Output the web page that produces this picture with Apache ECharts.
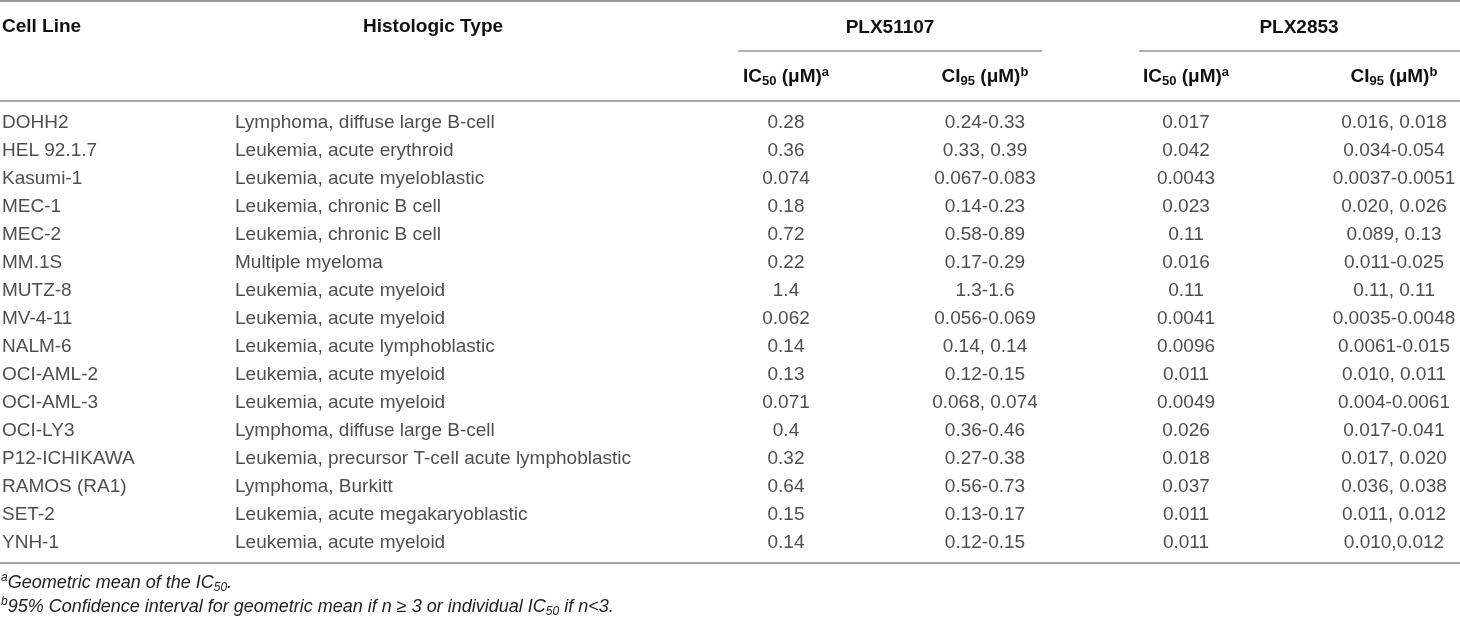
<!DOCTYPE html>
<html>
<head>
<meta charset="utf-8">
<script src="https://cdn.jsdelivr.net/npm/echarts@6/dist/echarts.min.js"></script>
<style>
  html, body { margin: 0; padding: 0; background: #fff; }
  #main { width: 1460px; height: 619px; }
</style>
</head>
<body>
<div id="main"></div>
<script>
// table data
var cellLines = ['DOHH2', 'HEL 92.1.7', 'Kasumi-1', 'MEC-1', 'MEC-2', 'MM.1S', 'MUTZ-8', 'MV-4-11',
  'NALM-6', 'OCI-AML-2', 'OCI-AML-3', 'OCI-LY3', 'P12-ICHIKAWA', 'RAMOS (RA1)', 'SET-2', 'YNH-1'];
var histologicTypes = ['Lymphoma, diffuse large B-cell', 'Leukemia, acute erythroid', 'Leukemia, acute myeloblastic',
  'Leukemia, chronic B cell', 'Leukemia, chronic B cell', 'Multiple myeloma', 'Leukemia, acute myeloid',
  'Leukemia, acute myeloid', 'Leukemia, acute lymphoblastic', 'Leukemia, acute myeloid', 'Leukemia, acute myeloid',
  'Lymphoma, diffuse large B-cell', 'Leukemia, precursor T-cell acute lymphoblastic', 'Lymphoma, Burkitt',
  'Leukemia, acute megakaryoblastic', 'Leukemia, acute myeloid'];
var plx51107IC50 = ['0.28', '0.36', '0.074', '0.18', '0.72', '0.22', '1.4', '0.062', '0.14', '0.13', '0.071',
  '0.4', '0.32', '0.64', '0.15', '0.14'];
var plx51107CI95 = ['0.24-0.33', '0.33, 0.39', '0.067-0.083', '0.14-0.23', '0.58-0.89', '0.17-0.29', '1.3-1.6',
  '0.056-0.069', '0.14, 0.14', '0.12-0.15', '0.068, 0.074', '0.36-0.46', '0.27-0.38', '0.56-0.73', '0.13-0.17',
  '0.12-0.15'];
var plx2853IC50 = ['0.017', '0.042', '0.0043', '0.023', '0.11', '0.016', '0.11', '0.0041', '0.0096', '0.011',
  '0.0049', '0.026', '0.018', '0.037', '0.011', '0.011'];
var plx2853CI95 = ['0.016, 0.018', '0.034-0.054', '0.0037-0.0051', '0.020, 0.026', '0.089, 0.13', '0.011-0.025',
  '0.11, 0.11', '0.0035-0.0048', '0.0061-0.015', '0.010, 0.011', '0.004-0.0061', '0.017-0.041', '0.017, 0.020',
  '0.036, 0.038', '0.011, 0.012', '0.010,0.012'];
var drugs = ['PLX51107', 'PLX2853'];
var footnotes = ['{sup|a}Geometric mean of the IC{sub|50}.',
  '{sup|b}95% Confidence interval for geometric mean if n \u2265 3 or individual IC{sub|50} if n<3.'];

// layout (pixels)
var FONT = 'Liberation Sans';
var colX = { cell: 2, histo: 235, ic1: 786, ci1: 985, ic2: 1186, ci2: 1394 };

var myChart = echarts.init(document.getElementById('main'));

function column(texts, x, align) {
  return {
    type: 'scatter',
    symbolSize: 1,
    silent: true,
    itemStyle: { color: 'transparent' },
    data: texts.map(function (t, i) { return [x, i]; }),
    label: {
      show: true,
      position: 'inside',
      align: align,
      verticalAlign: 'middle',
      fontFamily: FONT,
      fontSize: 19,
      color: '#222',
      formatter: function (p) { return texts[p.dataIndex]; }
    }
  };
}

function headText(text, x, y, align) {
  return {
    type: 'text', silent: true,
    style: {
      text: text, x: x, y: y,
      align: align, textAlign: align, verticalAlign: 'middle', textVerticalAlign: 'middle',
      fontFamily: FONT, fontSize: 19, fontWeight: 'bold', fill: '#111', lineHeight: 22,
      rich: {
        sub: { fontFamily: FONT, fontSize: 13, fontWeight: 'bold', fill: '#111', lineHeight: 13, verticalAlign: 'bottom' },
        sup: { fontFamily: FONT, fontSize: 13, fontWeight: 'bold', fill: '#111', lineHeight: 13, verticalAlign: 'top' }
      }
    }
  };
}

function noteText(text, y) {
  return {
    type: 'text', silent: true,
    style: {
      text: text, x: 1, y: y,
      align: 'left', textAlign: 'left', verticalAlign: 'middle', textVerticalAlign: 'middle',
      fontFamily: FONT, fontSize: 18, fontStyle: 'italic', fill: '#222', lineHeight: 22,
      rich: {
        sub: { fontFamily: FONT, fontSize: 12, fontStyle: 'italic', fill: '#222', lineHeight: 12, verticalAlign: 'bottom' },
        sup: { fontFamily: FONT, fontSize: 12, fontStyle: 'italic', fill: '#222', lineHeight: 12, verticalAlign: 'top' }
      }
    }
  };
}

function rule(x1, x2, y, color, w) {
  return { type: 'line', silent: true, shape: { x1: x1, y1: y, x2: x2, y2: y }, style: { stroke: color, lineWidth: w } };
}

var option = {
  animation: false,
  grid: { left: 0, right: 0, top: 109, bottom: 62, containLabel: false },
  xAxis: { type: 'value', min: 0, max: 1460, show: false },
  yAxis: { type: 'category', data: cellLines, inverse: true, show: false },
  graphic: [
    rule(0, 1460, 1, '#777', 1.5),
    rule(738, 1042, 51, '#999', 1.5),
    rule(1139, 1460, 51, '#999', 1.5),
    rule(0, 1460, 101, '#aaa', 2),
    rule(0, 1460, 563, '#888', 1.5),
    headText('Cell Line', 2, 27, 'left'),
    headText('Histologic Type', 363, 27, 'left'),
    headText(drugs[0], 890, 28, 'center'),
    headText(drugs[1], 1299, 28, 'center'),
    headText('IC{sub|50} (\u03bcM){sup|a}', colX.ic1, 77, 'center'),
    headText('CI{sub|95} (\u03bcM){sup|b}', colX.ci1, 77, 'center'),
    headText('IC{sub|50} (\u03bcM){sup|a}', colX.ic2, 77, 'center'),
    headText('CI{sub|95} (\u03bcM){sup|b}', colX.ci2, 77, 'center'),
    noteText(footnotes[0], 583),
    noteText(footnotes[1], 607)
  ],
  series: [
    column(cellLines, colX.cell, 'left'),
    column(histologicTypes, colX.histo, 'left'),
    column(plx51107IC50, colX.ic1, 'center'),
    column(plx51107CI95, colX.ci1, 'center'),
    column(plx2853IC50, colX.ic2, 'center'),
    column(plx2853CI95, colX.ci2, 'center')
  ]
};

myChart.setOption(option);
</script>
</body>
</html>
